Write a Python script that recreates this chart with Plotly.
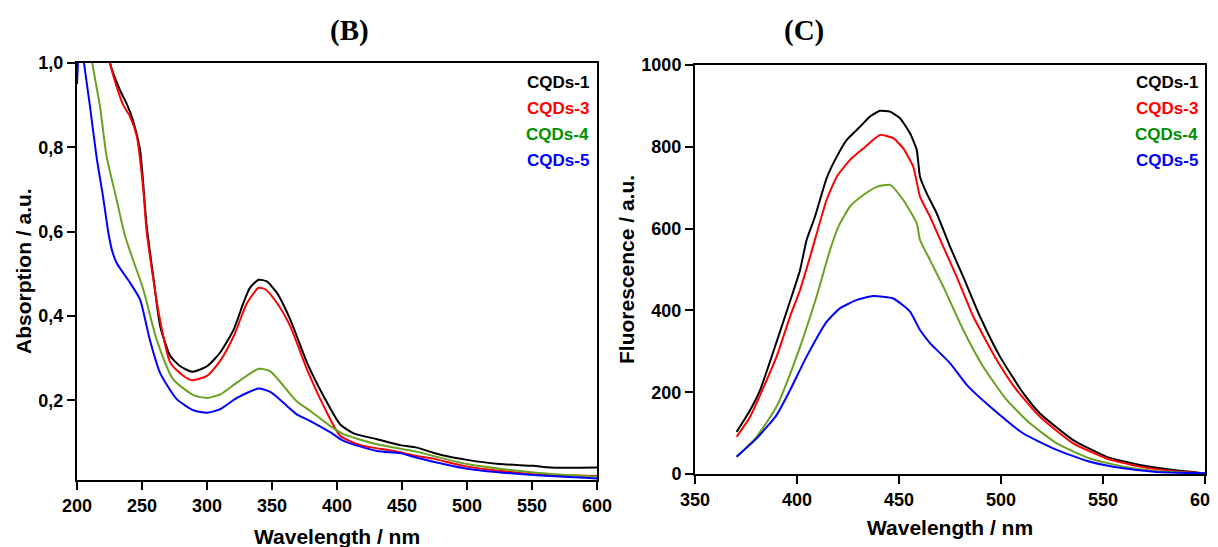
import plotly.graph_objects as go

# page body has an 8 px margin; figure coordinates are offset accordingly
OFF = 8
W, H = 1210, 539

# ---------------- Data: (B) absorption ----------------
abs_wl_1 = [210, 225.4, 233, 238, 243, 248.5, 253.6, 259, 264, 271.8, 279.5, 288.5, 300, 310, 320.5, 328, 333,
            339.7, 346, 353.8, 364, 377, 389.7, 402.5, 412.8, 430.8, 448.7, 461.5, 474, 484, 500, 525, 551, 564, 600]
abs_1 = [1.4, 1.0, 0.936, 0.905, 0.865, 0.794, 0.613, 0.486, 0.376, 0.305, 0.281, 0.268, 0.281, 0.313, 0.368, 0.431,
         0.467, 0.486, 0.482, 0.455, 0.392, 0.289, 0.21, 0.143, 0.122, 0.108, 0.094, 0.088, 0.076, 0.068, 0.059,
         0.049, 0.045, 0.041, 0.041]

abs_wl_3 = [210, 225.4, 230.5, 235.6, 240.8, 246, 251, 253.6, 262.8, 271.8, 282, 288.5, 300, 310, 320.5, 330.8,
            339.7, 345, 353.8, 364, 377, 389.7, 402.5, 418, 443.6, 461.5, 474, 500, 551, 600]
abs_3 = [1.4, 1.0, 0.944, 0.90, 0.873, 0.826, 0.70, 0.60, 0.408, 0.289, 0.258, 0.248, 0.258, 0.293, 0.352, 0.431,
         0.467, 0.463, 0.431, 0.376, 0.273, 0.187, 0.116, 0.094, 0.080, 0.068, 0.062, 0.043, 0.025, 0.021]

abs_wl_4 = [200, 211.8, 217.7, 222.8, 230.5, 237, 251, 261.3, 274, 290, 300, 310, 323, 339.7, 348.7, 359, 369,
            379.5, 395, 405, 430.8, 461.5, 500, 551, 577, 600]
abs_4 = [1.3, 1.0, 0.897, 0.778, 0.676, 0.589, 0.463, 0.344, 0.25, 0.212, 0.206, 0.214, 0.242, 0.275, 0.269, 0.234,
         0.198, 0.175, 0.139, 0.12, 0.096, 0.078, 0.049, 0.029, 0.023, 0.019]

abs_wl_5 = [200, 202.5, 205.4, 210, 215, 220, 224, 227, 230.5, 240.8, 248.5, 256, 263.8, 276.7, 290, 300, 310, 323,
            339.7, 348.7, 361.5, 369, 379.5, 395, 405, 430.8, 448.5, 461.5, 500, 551, 600]
abs_5 = [0.95, 1.08, 1.0, 0.897, 0.778, 0.684, 0.600, 0.555, 0.526, 0.479, 0.439, 0.344, 0.266, 0.203, 0.176, 0.171,
         0.179, 0.206, 0.228, 0.22, 0.187, 0.167, 0.151, 0.124, 0.104, 0.080, 0.075, 0.064, 0.038, 0.023, 0.015]

# ---------------- Data: (C) fluorescence ----------------
fl_wl_1 = [370.4, 377, 381.9, 389.2, 395.7, 401.5, 404.7, 408.8, 414.5, 419.5, 424.4, 430.9, 435.8, 440.7, 445.6,
           450.5, 455.4, 458.7, 460.3, 463.6, 468.5, 475, 481.5, 489.7, 499.5, 511, 519.1, 535.4, 551.8, 568, 584.5, 600]
fl_1 = [103, 156, 205, 311, 409, 499, 572, 629, 723, 776, 817, 849, 874, 888, 886, 870, 833, 792, 727, 686, 637,
        556, 482, 385, 287, 197, 148, 83, 42, 22, 10, 2]

fl_wl_3 = [370.4, 377, 390, 396.6, 401.5, 406.4, 414.5, 419.5, 426, 432.5, 440.7, 447.2, 452.1, 457, 460.3, 465.2,
           471.7, 478.3, 486.4, 497.9, 507.7, 519.1, 535.4, 551.8, 568, 584.5, 600]
fl_3 = [91, 140, 287, 385, 450, 531, 670, 727, 768, 796, 829, 821, 796, 751, 678, 629, 556, 482, 385, 279, 205, 140,
        75, 38, 18, 7, 2]

fl_wl_4 = [370.4, 380.2, 390, 399.8, 409.6, 416.2, 420.3, 426, 432.5, 439.1, 445.6, 452.1, 458.7, 460.3, 465.2,
           471.7, 481.5, 491.3, 502.8, 514.2, 527.3, 543.6, 560, 576.3, 600]
fl_4 = [42, 91, 165, 287, 434, 548, 605, 654, 682, 702, 707, 670, 613, 572, 523, 458, 352, 262, 181, 124, 75, 38,
        18, 7, 2]

fl_wl_5 = [370.4, 380.2, 390, 396.6, 404.7, 414.5, 421, 429.1, 437.3, 447.2, 455.4, 460.3, 465.2, 475, 483.2, 494.6,
           511, 527.3, 543.6, 560, 576.3, 600]
fl_5 = [42, 87, 144, 205, 287, 372, 405, 425, 435, 429, 397, 352, 320, 271, 218, 165, 99, 59, 30, 14, 5, 2]

series_names = ["CQDs-1", "CQDs-3", "CQDs-4", "CQDs-5"]
line_colors = ["#000000", "#FF0000", "#6AA121", "#0000FF"]
text_colors = ["#000000", "#FF0000", "#009000", "#0000FF"]

x_ticks_b = [200, 250, 300, 350, 400, 450, 500, 550, 600]
y_ticks_b = [0.2, 0.4, 0.6, 0.8, 1.0]
x_ticks_c = [350, 400, 450, 500, 550, 600]
y_ticks_c = [0, 200, 400, 600, 800, 1000]

# ---------------- Figure ----------------
def px(x):
    return (x - OFF) / W

def py(y):
    return 1 - (y - OFF) / H

fig = go.Figure()
abs_sets = [(abs_wl_1, abs_1), (abs_wl_3, abs_3), (abs_wl_4, abs_4), (abs_wl_5, abs_5)]
fl_sets = [(fl_wl_1, fl_1), (fl_wl_3, fl_3), (fl_wl_4, fl_4), (fl_wl_5, fl_5)]

for (xs, ys), name, c in zip(abs_sets, series_names, line_colors):
    fig.add_trace(go.Scatter(x=xs, y=ys, mode="lines", name=name, showlegend=False,
                             line=dict(color=c, width=2, shape="spline", smoothing=0.6),
                             xaxis="x", yaxis="y"))
for (xs, ys), name, c in zip(fl_sets, series_names, line_colors):
    fig.add_trace(go.Scatter(x=xs, y=ys, mode="lines", name=name, showlegend=False,
                             line=dict(color=c, width=2, shape="spline", smoothing=0.5),
                             xaxis="x2", yaxis="y2"))

tick_font = dict(family="Liberation Sans, Arial", size=18, color="black", weight="bold")
common = dict(showgrid=False, zeroline=False, showline=True, linecolor="black", linewidth=2, mirror=True,
              ticks="outside", ticklen=8, tickwidth=2, tickcolor="black", tickfont=tick_font,
              automargin=False, ticklabeloverflow="allow")

fig.update_layout(
    width=W, height=H, margin=dict(l=0, r=0, t=0, b=0, pad=0, autoexpand=False),
    paper_bgcolor="white", plot_bgcolor="white",
    separators=",.",
    xaxis=dict(domain=[px(77), px(597)], range=[200, 600], tickvals=x_ticks_b, anchor="y", **common),
    yaxis=dict(domain=[py(480), py(63)], range=[0.0113, 1.0], tickvals=y_ticks_b, tickformat=".1f",
               anchor="x", **common),
    xaxis2=dict(domain=[px(695), px(1205)], range=[350, 600], tickvals=x_ticks_c, anchor="y2", **common),
    yaxis2=dict(domain=[py(474), py(65)], range=[0, 1000], tickvals=y_ticks_c, tickformat="d",
                anchor="x2", **common),
)

title_font = dict(family="Liberation Sans, Arial", size=21, color="black", weight="bold")
serif_font = dict(family="Liberation Serif, Times New Roman", size=29, color="black", weight="bold")


def label(text, x, y, font, angle=0, xanchor="center"):
    return dict(text=text, x=px(x), y=py(y), xref="paper", yref="paper", showarrow=False,
                xanchor=xanchor, yanchor="middle", textangle=angle, font=font)


ann = [
    label("(B)", 349, 30, serif_font),
    label("(C)", 804, 30, serif_font),
    label("Wavelength / nm", 337, 536, title_font),
    label("Wavelength / nm", 950, 527, title_font),
    label("Absorption / a.u.", 23, 271, title_font, angle=-90),
    label("Fluorescence / a.u.", 626, 270, title_font, angle=-90),
]

for i, (name, c) in enumerate(zip(series_names, text_colors)):
    yy = 83 + i * 25.7
    f = dict(family="Liberation Sans, Arial", size=17, color=c, weight="bold")
    ann.append(label(name, 591, yy, f, xanchor="right"))
    ann.append(label(name, 1200, yy, f, xanchor="right"))

fig.update_layout(annotations=ann)
fig.write_html("out.html")
